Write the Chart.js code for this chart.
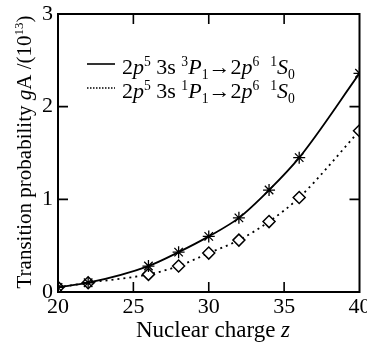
<!DOCTYPE html>
<html>
<head>
<meta charset="utf-8">
<script src="https://cdn.jsdelivr.net/npm/chart.js@4.4.1/dist/chart.umd.min.js"></script>
<style>
  html, body { margin: 0; padding: 0; background: #fff; }
  #wrap { width: 367px; height: 342px; }
</style>
</head>
<body>
<div id="wrap"><canvas id="chart" width="367" height="342"></canvas></div>
<script>
// nuclear charge z
const charges = [20, 22, 26, 28, 30, 32, 34, 36, 40];
// gA in units of 10^13
const triplet = [0.05, 0.10, 0.28, 0.43, 0.60, 0.80, 1.10, 1.45, 2.36];
const singlet = [0.05, 0.10, 0.19, 0.28, 0.42, 0.56, 0.76, 1.02, 1.74];
const xTicks = [20, 25, 30, 35, 40];
const yTicks = [0, 1, 2, 3];

const SERIF = "'Liberation Serif', 'DejaVu Serif', serif";

// segments: [text, italic, 'sup'|'sub'|undefined]
const legendRows = [
  { dash: [], segs: [['2'], ['p', 1], ['5', 0, 'sup'], [' 3s '], ['3', 0, 'sup'], ['P', 1], ['1', 0, 'sub'], ['\u2192'], ['2'], ['p', 1], ['6', 0, 'sup'], ['  '], ['1', 0, 'sup'], ['S', 1], ['0', 0, 'sub']] },
  { dash: [1.5, 1.5], segs: [['2'], ['p', 1], ['5', 0, 'sup'], [' 3s '], ['1', 0, 'sup'], ['P', 1], ['1', 0, 'sub'], ['\u2192'], ['2'], ['p', 1], ['6', 0, 'sup'], ['  '], ['1', 0, 'sup'], ['S', 1], ['0', 0, 'sub']] }
];
const yTitle = [['Transition probability '], ['g', 1], ['A /(10'], ['13', 0, 'sup'], [')']];
const xTitle = [['Nuclear charge '], ['z', 1]];

function segFont(s, size) {
  const sz = s[2] ? size * 0.62 : size;
  return (s[1] ? 'italic ' : '') + sz + 'px ' + SERIF;
}

function richWidth(ctx, segs, size) {
  let w = 0;
  segs.forEach(s => { ctx.font = segFont(s, size); w += ctx.measureText(s[0]).width; });
  return w;
}

function drawRich(ctx, x, y, segs, size) {
  ctx.textBaseline = 'alphabetic';
  ctx.textAlign = 'left';
  segs.forEach(s => {
    ctx.font = segFont(s, size);
    let dy = 0;
    if (s[2] === 'sup') dy = -size * 0.38;
    if (s[2] === 'sub') dy = size * 0.22;
    ctx.fillText(s[0], x, y + dy);
    x += ctx.measureText(s[0]).width;
  });
}

// frame, inward ticks, titles and legend
const decor = {
  id: 'decor',
  afterDatasetsDraw(chart) {
    const { ctx, chartArea: a, scales } = chart;
    ctx.save();
    ctx.strokeStyle = '#000';
    ctx.fillStyle = '#000';
    ctx.lineWidth = 2;
    ctx.strokeRect(a.left, a.top, a.right - a.left, a.bottom - a.top);
    ctx.lineWidth = 1.6;
    const tl = 10;
    ctx.beginPath();
    xTicks.slice(1, -1).forEach(v => {
      const px = scales.x.getPixelForValue(v);
      ctx.moveTo(px, a.bottom); ctx.lineTo(px, a.bottom - tl);
      ctx.moveTo(px, a.top); ctx.lineTo(px, a.top + tl);
    });
    yTicks.slice(1, -1).forEach(v => {
      const py = scales.y.getPixelForValue(v);
      ctx.moveTo(a.left, py); ctx.lineTo(a.left + tl, py);
      ctx.moveTo(a.right, py); ctx.lineTo(a.right - tl, py);
    });
    ctx.stroke();

    // legend
    const lsize = 22;
    legendRows.forEach((row, i) => {
      const base = 74 + i * 24;
      ctx.beginPath();
      ctx.lineWidth = 1.6;
      ctx.setLineDash(row.dash);
      ctx.moveTo(87, base - 10);
      ctx.lineTo(115, base - 10);
      ctx.stroke();
      ctx.setLineDash([]);
      drawRich(ctx, 122, base, row.segs, lsize);
    });

    // x title
    const xs = 23;
    const xw = richWidth(ctx, xTitle, xs);
    drawRich(ctx, 213 - xw / 2, 337, xTitle, xs);

    // y title
    const ys = 21;
    const yw = richWidth(ctx, yTitle, ys);
    ctx.translate(31, 152);
    ctx.rotate(-Math.PI / 2);
    drawRich(ctx, -yw / 2, 0, yTitle, ys);
    ctx.restore();
  }
};

const ctx = document.getElementById('chart');

new Chart(ctx, {
  type: 'line',
  data: {
    labels: charges,
    datasets: [{
      label: 'triplet',
      data: charges.map((z, i) => ({ x: z, y: triplet[i] })),
      borderColor: '#000',
      backgroundColor: '#000',
      borderWidth: 1.8,
      cubicInterpolationMode: 'monotone',
      pointStyle: 'star',
      pointRadius: 6,
      pointBorderWidth: 1.3,
      pointBorderColor: '#000'
    }, {
      label: 'singlet',
      data: charges.map((z, i) => ({ x: z, y: singlet[i] })),
      borderColor: '#000',
      backgroundColor: '#fff',
      borderWidth: 1.8,
      borderDash: [2, 4],
      cubicInterpolationMode: 'monotone',
      pointStyle: 'rectRot',
      pointRadius: 6,
      pointBorderWidth: 1.5,
      pointBorderColor: '#000',
      pointBackgroundColor: '#fff'
    }]
  },
  options: {
    responsive: false,
    animation: false,
    events: [],
    layout: { padding: { top: 14, right: 7, left: 0, bottom: 0 } },
    plugins: { legend: { display: false }, tooltip: { enabled: false } },
    scales: {
      x: {
        type: 'linear',
        min: 20,
        max: 40,
        afterBuildTicks: s => { s.ticks = xTicks.map(v => ({ value: v })); },
        afterFit: s => { s.height = 50; s.paddingLeft = 0; s.paddingRight = 0; },
        grid: { display: false, drawTicks: false },
        border: { display: false },
        ticks: {
          color: '#000',
          padding: 2,
          maxRotation: 0,
          font: { family: SERIF, size: 22 }
        }
      },
      y: {
        min: 0,
        max: 3,
        afterBuildTicks: s => { s.ticks = yTicks.map(v => ({ value: v })); },
        afterFit: s => { s.width = 58; s.paddingTop = 0; s.paddingBottom = 0; },
        grid: { display: false, drawTicks: false },
        border: { display: false },
        ticks: {
          color: '#000',
          padding: 5,
          font: { family: SERIF, size: 22 }
        }
      }
    }
  },
  plugins: [decor]
});
</script>
</body>
</html>
